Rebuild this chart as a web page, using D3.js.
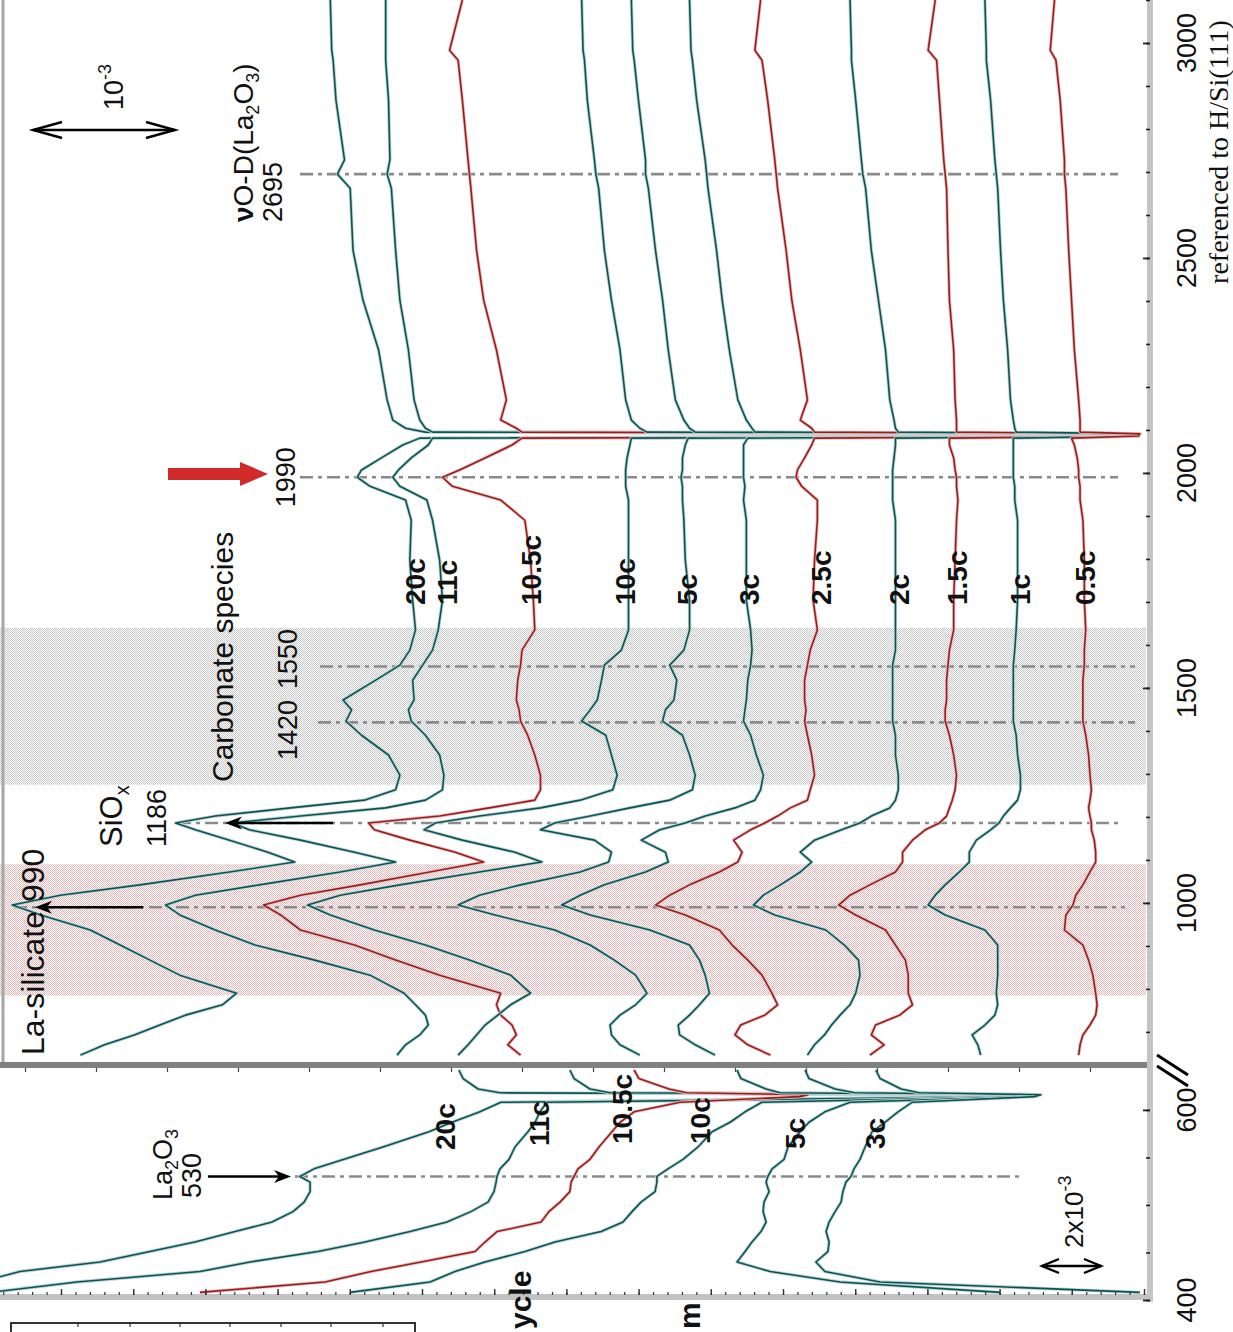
<!DOCTYPE html>
<html>
<head>
<meta charset="utf-8">
<script src="https://cdn.jsdelivr.net/npm/d3@7"></script>
<style>
  body { margin: 0; background: #fff; }
  svg { display: block; }
</style>
</head>
<body>
<div id="chart"></div>
<script>
// ---- data: wavenumber grids (cm-1) and stacked absorbance (units of 1e-3) ----
const upperWn = [3100, 2983, 2960, 2867, 2728, 2695, 2662, 2518, 2402, 2286, 2170, 2123, 2104, 2095, 2091, 2086, 2081, 2065, 2035, 2007, 1990, 1969, 1937, 1890, 1797, 1704, 1635, 1588, 1553, 1518, 1472, 1449, 1423, 1390, 1344, 1297, 1263, 1239, 1221, 1202, 1186, 1170, 1146, 1118, 1095, 1072, 1042, 1018, 995, 972, 937, 902, 867, 832, 790, 763, 739, 716, 693, 670, 646];

const abs20c = [5.85, 5.84, 5.83, 5.81, 5.75, 5.80, 5.71, 5.69, 5.62, 5.51, 5.45, 5.41, 5.32, 5.18, 0.15, 0.16, 5.22, 5.34, 5.49, 5.63, 5.66, 5.57, 5.32, 5.28, 5.29, 5.27, 5.25, 5.29, 5.36, 5.53, 5.76, 5.70, 5.74, 5.63, 5.44, 5.36, 5.39, 5.61, 6.13, 6.66, 6.94, 6.80, 6.56, 6.29, 6.10, 6.56, 7.19, 7.75, 8.09, 7.89, 7.54, 7.33, 7.12, 6.91, 6.51, 6.61, 6.87, 7.05, 7.23, 7.44, 7.61];
const abs11c = [5.46, 5.46, 5.46, 5.44, 5.43, 5.45, 5.42, 5.39, 5.36, 5.30, 5.26, 5.22, 5.18, 5.13, 0.15, 0.16, 5.13, 5.16, 5.28, 5.37, 5.41, 5.36, 5.17, 5.13, 5.08, 5.06, 5.09, 5.13, 5.20, 5.27, 5.26, 5.30, 5.28, 5.18, 5.08, 5.05, 5.06, 5.18, 5.46, 6.06, 6.54, 6.42, 6.06, 5.68, 5.39, 5.78, 6.35, 6.80, 7.01, 6.91, 6.66, 6.38, 5.96, 5.57, 5.33, 5.25, 5.18, 5.16, 5.22, 5.32, 5.38];
const abs10_5c = [4.92, 5.01, 4.95, 4.92, 4.88, 4.87, 4.86, 4.82, 4.77, 4.68, 4.61, 4.65, 4.54, 4.50, 0.15, 0.16, 4.50, 4.57, 4.76, 4.94, 5.06, 4.99, 4.65, 4.48, 4.44, 4.42, 4.41, 4.50, 4.51, 4.53, 4.54, 4.52, 4.51, 4.46, 4.41, 4.37, 4.37, 4.41, 4.73, 5.08, 5.58, 5.54, 5.29, 4.97, 4.77, 5.15, 5.64, 6.06, 6.32, 6.20, 6.06, 5.68, 5.39, 5.08, 4.65, 4.68, 4.65, 4.57, 4.54, 4.60, 4.51];
const abs10c = [4.08, 4.07, 4.06, 4.04, 3.99, 3.98, 3.96, 3.92, 3.87, 3.81, 3.77, 3.73, 3.67, 3.62, 0.15, 0.16, 3.73, 3.74, 3.76, 3.77, 3.77, 3.77, 3.75, 3.75, 3.75, 3.75, 3.75, 3.80, 3.92, 3.94, 3.97, 4.02, 4.08, 3.91, 3.87, 3.83, 3.86, 4.09, 4.37, 4.80, 5.11, 5.19, 4.92, 4.55, 4.36, 4.80, 5.36, 5.78, 6.01, 5.85, 5.54, 5.18, 4.87, 4.58, 4.44, 4.58, 4.67, 4.76, 4.82, 4.88, 4.95];
const abs5c = [3.73, 3.72, 3.71, 3.68, 3.63, 3.63, 3.61, 3.56, 3.51, 3.47, 3.42, 3.36, 3.32, 3.28, 0.15, 0.16, 3.33, 3.35, 3.37, 3.37, 3.38, 3.37, 3.37, 3.36, 3.35, 3.32, 3.32, 3.36, 3.46, 3.41, 3.43, 3.49, 3.51, 3.37, 3.32, 3.28, 3.30, 3.46, 3.74, 4.02, 4.27, 4.37, 3.99, 3.87, 3.89, 4.09, 4.51, 4.80, 4.95, 4.69, 4.27, 4.02, 3.85, 3.70, 3.62, 3.70, 3.81, 3.88, 3.87, 3.81, 3.67];
const abs3c = [3.32, 3.31, 3.30, 3.27, 3.21, 3.20, 3.19, 3.13, 3.09, 3.04, 2.98, 2.92, 2.88, 2.86, 0.15, 0.16, 2.91, 2.94, 2.94, 2.94, 2.94, 2.93, 2.94, 2.92, 2.92, 2.92, 2.89, 2.88, 2.89, 2.91, 2.92, 2.93, 2.94, 2.89, 2.85, 2.80, 2.82, 2.86, 3.00, 3.21, 3.35, 3.53, 3.66, 3.49, 3.47, 3.63, 3.92, 4.09, 4.22, 4.02, 3.60, 3.32, 3.25, 3.21, 3.18, 3.25, 3.32, 3.40, 3.39, 3.28, 3.14];
const abs2_5c = [2.82, 2.86, 2.81, 2.77, 2.72, 2.71, 2.70, 2.64, 2.60, 2.54, 2.49, 2.54, 2.46, 2.44, 0.15, 0.16, 2.44, 2.46, 2.51, 2.56, 2.57, 2.53, 2.42, 2.42, 2.44, 2.45, 2.42, 2.47, 2.49, 2.51, 2.51, 2.50, 2.51, 2.49, 2.46, 2.44, 2.47, 2.49, 2.61, 2.70, 2.79, 2.89, 3.01, 2.95, 2.98, 3.11, 3.32, 3.46, 3.56, 3.35, 3.11, 3.02, 2.91, 2.81, 2.74, 2.70, 2.79, 2.96, 3.00, 2.91, 2.75];
const abs2c = [2.19, 2.18, 2.18, 2.15, 2.11, 2.10, 2.08, 2.04, 1.99, 1.94, 1.91, 1.88, 1.87, 1.85, 0.15, 0.16, 1.87, 1.87, 1.88, 1.89, 1.89, 1.89, 1.89, 1.87, 1.87, 1.87, 1.87, 1.87, 1.89, 1.89, 1.89, 1.89, 1.89, 1.87, 1.87, 1.85, 1.85, 1.87, 1.91, 2.04, 2.12, 2.25, 2.44, 2.54, 2.46, 2.54, 2.68, 2.80, 2.87, 2.72, 2.36, 2.23, 2.13, 2.12, 2.15, 2.19, 2.26, 2.32, 2.37, 2.44, 2.49];
const abs1_5c = [1.59, 1.64, 1.58, 1.56, 1.53, 1.52, 1.51, 1.50, 1.49, 1.46, 1.45, 1.44, 1.44, 1.44, 0.15, 0.16, 1.49, 1.49, 1.46, 1.45, 1.44, 1.44, 1.43, 1.44, 1.45, 1.46, 1.46, 1.49, 1.50, 1.51, 1.51, 1.52, 1.52, 1.49, 1.46, 1.44, 1.45, 1.47, 1.49, 1.51, 1.56, 1.66, 1.75, 1.82, 1.82, 1.87, 2.05, 2.19, 2.27, 2.15, 1.94, 1.87, 1.80, 1.78, 1.78, 1.75, 1.84, 2.01, 2.04, 1.95, 2.05];
const abs1c = [1.24, 1.23, 1.23, 1.20, 1.17, 1.16, 1.15, 1.13, 1.11, 1.08, 1.06, 1.04, 1.03, 1.02, 0.15, 0.16, 1.04, 1.04, 1.04, 1.04, 1.04, 1.03, 1.03, 1.01, 1.01, 1.01, 1.02, 1.03, 1.04, 1.04, 1.04, 1.04, 1.04, 1.02, 1.01, 0.99, 0.99, 1.01, 1.06, 1.11, 1.14, 1.20, 1.30, 1.35, 1.35, 1.42, 1.52, 1.59, 1.64, 1.52, 1.24, 1.15, 1.15, 1.15, 1.16, 1.15, 1.17, 1.24, 1.33, 1.29, 1.27];
const abs0_5c = [0.75, 0.78, 0.74, 0.71, 0.68, 0.68, 0.67, 0.65, 0.63, 0.61, 0.58, 0.57, 0.57, 0.57, 0.15, 0.16, 0.63, 0.61, 0.59, 0.58, 0.58, 0.57, 0.57, 0.55, 0.54, 0.54, 0.53, 0.54, 0.54, 0.55, 0.55, 0.55, 0.55, 0.53, 0.51, 0.50, 0.49, 0.50, 0.51, 0.50, 0.49, 0.49, 0.47, 0.46, 0.46, 0.50, 0.55, 0.60, 0.62, 0.67, 0.68, 0.55, 0.51, 0.48, 0.46, 0.45, 0.46, 0.50, 0.55, 0.57, 0.58];

const lowerWn = [642, 633, 622, 618, 616, 614, 608, 598, 587, 577, 561, 548, 538, 530, 524, 514, 503, 493, 482, 472, 461, 451, 440, 430, 419, 408];
const low20c = [21.37, 21.23, 20.73, 20.00, 3.33, 3.50, 19.97, 20.67, 21.60, 22.37, 23.90, 25.20, 26.20, 26.67, 26.33, 26.33, 26.53, 26.90, 27.60, 28.83, 30.17, 31.67, 33.33, 36.00, 37.33, 38.33];
const low11c = [17.67, 17.53, 17.00, 16.33, 3.00, 3.17, 18.43, 18.67, 18.83, 19.07, 19.50, 19.70, 20.00, 20.10, 20.13, 20.20, 20.40, 20.97, 21.77, 23.00, 24.50, 26.07, 28.33, 30.00, 34.10, 37.00];
const low10_5c = [15.53, 15.37, 14.37, 13.77, 9.73, 10.00, 14.00, 15.53, 16.00, 16.27, 16.70, 17.00, 17.40, 17.53, 17.63, 17.67, 18.00, 18.37, 18.63, 20.10, 20.50, 20.83, 22.63, 24.30, 25.83, 30.00];
const low10c = [12.10, 11.97, 11.13, 10.67, 2.67, 2.83, 11.27, 11.83, 12.33, 12.93, 13.40, 13.90, 14.40, 14.77, 14.77, 14.83, 15.30, 15.60, 15.90, 16.63, 18.17, 19.17, 20.50, 21.50, 22.33, 25.00];
const low5c = [9.83, 9.70, 8.83, 8.17, 2.33, 2.50, 8.33, 9.17, 9.70, 10.00, 10.40, 10.53, 10.93, 11.07, 11.13, 11.03, 11.20, 11.23, 11.13, 11.30, 11.60, 11.83, 12.10, 11.00, 8.67, 3.33];
const low3c = [7.47, 7.33, 6.63, 6.03, 1.97, 2.17, 6.27, 6.73, 7.17, 7.60, 7.83, 8.00, 8.20, 8.30, 8.47, 8.57, 8.63, 8.83, 9.03, 9.13, 9.03, 9.07, 9.47, 9.17, 7.33, -1.33];

const upperCycles = ["20c", "11c", "10.5c", "10c", "5c", "3c", "2.5c", "2c", "1.5c", "1c", "0.5c"];
const lowerCycles = ["20c", "11c", "10.5c", "10c", "5c", "3c"];
const redCycles = ["10.5c", "2.5c", "1.5c", "0.5c"];

const upperTicks = d3.range(700, 3101, 100);
const upperTickLabels = [1000, 1500, 2000, 2500, 3000];
const lowerTicks = [400, 450, 500, 550, 600];
const lowerTickLabels = [400, 600];

const upperSeries = [abs20c, abs11c, abs10_5c, abs10c, abs5c, abs3c, abs2_5c, abs2c, abs1_5c, abs1c, abs0_5c]
  .map((vals, i) => ({ cycle: upperCycles[i], points: d3.zip(upperWn, vals) }));
const lowerSeries = [low20c, low11c, low10_5c, low10c, low5c, low3c]
  .map((vals, i) => ({ cycle: lowerCycles[i], points: d3.zip(lowerWn, vals) }));

// ---- scales ----
const W = 1233, H = 1332;
const yU = d3.scaleLinear().domain([630, 3100]).range([1062, 0]);
const yL = d3.scaleLinear().domain([400, 642]).range([1300, 1070]);
const xU = d3.scaleLinear().domain([0, 8]).range([1161, 25]);
const xL = d3.scaleLinear().domain([0, 10]).range([1100, 800]);
const xB = d3.scaleLinear().domain([0, 16]).range([1144, -11.2]);

const SANS = "'Liberation Sans', Arial, Helvetica, sans-serif";
const SERIF = "'Liberation Serif', 'Times New Roman', serif";

const svg = d3.select("#chart").append("svg")
  .attr("width", W).attr("height", H)
  .attr("viewBox", [0, 0, W, H])
  .style("background", "#fff");

const defs = svg.append("defs");
function dotPattern(id, color) {
  const p = defs.append("pattern").attr("id", id)
    .attr("width", 2).attr("height", 2).attr("patternUnits", "userSpaceOnUse");
  p.append("rect").attr("x", 0).attr("y", 0).attr("width", 1).attr("height", 1).attr("fill", color);
  p.append("rect").attr("x", 1).attr("y", 1).attr("width", 1).attr("height", 1).attr("fill", color);
}
dotPattern("grayDots", "#c6c6c6");
dotPattern("pinkDots", "#e8b6b6");
defs.append("clipPath").attr("id", "clipU").append("rect")
  .attr("x", 0).attr("y", 0).attr("width", 1147).attr("height", 1062);
defs.append("clipPath").attr("id", "clipL").append("rect")
  .attr("x", 0).attr("y", 1068).attr("width", 1147).attr("height", 226);

// ---- shaded bands ----
svg.append("rect").attr("x", 0).attr("width", 1146)
  .attr("y", yU(1640)).attr("height", yU(1275) - yU(1640))
  .attr("fill", "url(#grayDots)");
svg.append("rect").attr("x", 0).attr("width", 1146)
  .attr("y", yU(1090)).attr("height", yU(785) - yU(1090))
  .attr("fill", "url(#pinkDots)");

// ---- dash-dot peak markers ----
const markers = [
  { y: yU(2695), x0: 300, x1: 1118 },
  { y: yU(1990), x0: 300, x1: 1118 },
  { y: yU(1550), x0: 320, x1: 1135 },
  { y: yU(1420), x0: 318, x1: 1135 },
  { y: yU(1186), x0: 178, x1: 1118 },
  { y: yU(990), x0: 14, x1: 1125 },
  { y: yL(530), x0: 295, x1: 1022 }
];
svg.append("g").selectAll("line").data(markers).join("line")
  .attr("x1", d => d.x0).attr("x2", d => d.x1)
  .attr("y1", d => d.y).attr("y2", d => d.y)
  .attr("stroke", "#8a8a8a").attr("stroke-width", 2.6)
  .attr("stroke-dasharray", "13,5,4,5");

// ---- traces ----
function drawTraces(series, xs, ys, clip) {
  const line = d3.line().x(d => xs(d[1])).y(d => ys(d[0]));
  const g = svg.append("g").attr("clip-path", `url(#${clip})`);
  series.forEach(s => {
    const red = redCycles.includes(s.cycle);
    g.append("path").attr("d", line(s.points)).attr("fill", "none")
      .attr("stroke", red ? "#e6c2c2" : "#bcd5d5").attr("stroke-width", 3.4)
      .attr("stroke-linejoin", "round");
    g.append("path").attr("d", line(s.points)).attr("fill", "none")
      .attr("stroke", red ? "#991c1c" : "#0e5252").attr("stroke-width", 1.6)
      .attr("stroke-linejoin", "round");
  });
}
drawTraces(upperSeries, xU, yU, "clipU");
drawTraces(lowerSeries, xL, yL, "clipL");

// ---- frame ----
svg.append("line").attr("x1", 3).attr("x2", 3).attr("y1", 0).attr("y2", 1062)
  .attr("stroke", "#a6a6a6").attr("stroke-width", 3);
svg.append("rect").attr("x", 0).attr("y", 1062).attr("width", 1150).attr("height", 6).attr("fill", "#808080");
svg.append("rect").attr("x", 0).attr("y", 1294).attr("width", 1150).attr("height", 6).attr("fill", "#c2c2c2");
svg.append("rect").attr("x", 1147).attr("y", 0).attr("width", 6).attr("height", 1302).attr("fill", "#c4c4c4");

// separator ticks (absorbance axis of upper panel)
svg.append("g").attr("transform", "translate(0,1068)")
  .call(d3.axisBottom(xU).tickValues(d3.range(0.5, 8.01, 0.5)).tickSize(4).tickFormat(""))
  .call(g => g.select(".domain").remove())
  .selectAll("line").attr("stroke", "#444").attr("stroke-width", 1.2);

// bottom bar ticks
svg.append("g").attr("transform", "translate(0,1295)")
  .call(d3.axisTop(xB).tickValues(d3.range(0, 16.01, 0.2).filter(v => xB(v) >= 0)).tickSize(3).tickFormat(""))
  .call(g => g.select(".domain").remove())
  .selectAll("line").attr("stroke", "#333").attr("stroke-width", 1.2);
svg.append("g").attr("transform", "translate(0,1295)")
  .call(d3.axisTop(xB).tickValues(d3.range(0, 16.01, 1).filter(v => xB(v) >= 0)).tickSize(6).tickFormat(""))
  .call(g => g.select(".domain").remove())
  .selectAll("line").attr("stroke", "#333").attr("stroke-width", 1.4);

// wavenumber axis ticks
function wnAxis(scale, minor, major) {
  svg.append("g").attr("transform", "translate(1150,0)")
    .call(d3.axisLeft(scale).tickValues(minor).tickSize(4).tickFormat(""))
    .call(g => g.select(".domain").remove())
    .selectAll("line").attr("stroke", "#222").attr("stroke-width", 1.6);
  svg.append("g").attr("transform", "translate(1150,0)")
    .call(d3.axisLeft(scale).tickValues(major).tickSize(7).tickFormat(""))
    .call(g => g.select(".domain").remove())
    .selectAll("line").attr("stroke", "#222").attr("stroke-width", 1.8);
}
wnAxis(yU, upperTicks, upperTickLabels);
wnAxis(yL, lowerTicks, lowerTickLabels);

// axis break marks
svg.append("g").selectAll("line").data([0, 11]).join("line")
  .attr("x1", 1157).attr("y1", d => 1055 + d)
  .attr("x2", 1188).attr("y2", d => 1075 + d)
  .attr("stroke", "#000").attr("stroke-width", 3);

// ---- text helpers ----
function vtext(x, y, parts, o) {
  const t = svg.append("text")
    .attr("transform", `translate(${x},${y}) rotate(-90)`)
    .attr("font-family", o.family || SANS)
    .attr("font-size", o.size)
    .attr("font-weight", o.weight || "normal")
    .attr("text-anchor", o.anchor || "start")
    .attr("fill", "#111");
  if (typeof parts === "string") t.text(parts);
  else parts.forEach(p => {
    const s = t.append("tspan").text(p.t);
    if (p.dy) s.attr("dy", p.dy);
    if (p.size) s.attr("font-size", p.size);
    if (p.weight) s.attr("font-weight", p.weight);
  });
  return t;
}

function arrow(x1, y, x2) {
  const dir = Math.sign(x2 - x1);
  svg.append("line").attr("x1", x1).attr("y1", y).attr("x2", x2 - dir * 10).attr("y2", y)
    .attr("stroke", "#000").attr("stroke-width", 2.6);
  svg.append("path")
    .attr("d", `M${x2},${y} L${x2 - dir * 17},${y - 6.5} L${x2 - dir * 12},${y} L${x2 - dir * 17},${y + 6.5} Z`)
    .attr("fill", "#000");
}

function dblArrow(x1, x2, y, len, half) {
  svg.append("line").attr("x1", x1).attr("x2", x2).attr("y1", y).attr("y2", y)
    .attr("stroke", "#000").attr("stroke-width", 2.4);
  svg.append("path")
    .attr("d", `M${x1 + len},${y - half} L${x1},${y} L${x1 + len},${y + half} M${x2 - len},${y - half} L${x2},${y} L${x2 - len},${y + half}`)
    .attr("fill", "none").attr("stroke", "#000").attr("stroke-width", 2.4);
}

// tick labels
upperTickLabels.forEach(v => vtext(1196, yU(v), String(v), { size: 27, anchor: "middle" }));
lowerTickLabels.forEach(v => vtext(1196, yL(v), String(v), { size: 27, anchor: "middle" }));
vtext(1228, 152, "referenced to H/Si(111)", { size: 28, anchor: "middle", family: SERIF });

// scale bars
dblArrow(33, 175, 130, 29, 8);
vtext(123, 110, [{ t: "10" }, { t: "-3", size: 18, dy: -12 }], { size: 27 });
dblArrow(1042, 1101, 1266, 17, 7);
vtext(1083, 1248, [{ t: "2x10" }, { t: "-3", size: 18, dy: -12 }], { size: 26 });

// peak annotations
vtext(253, 222, [
  { t: "ν", weight: "bold" }, { t: "O-D(La" },
  { t: "2", size: 18, dy: 6 }, { t: "O", dy: -6 },
  { t: "3", size: 18, dy: 6 }, { t: ")", dy: -6 }
], { size: 28 });
vtext(282, 222, "2695", { size: 27 });

svg.append("path")
  .attr("d", "M168,468 L240,468 L240,462 L268,474 L240,486 L240,480 L168,480 Z")
  .attr("fill", "#d12a2a");
vtext(295, yU(1990), "1990", { size: 27, anchor: "middle" });

vtext(233, 782, "Carbonate species", { size: 30 });
vtext(297, 730, "1420", { size: 27, anchor: "middle" });
vtext(297, 659, "1550", { size: 27, anchor: "middle" });

vtext(122, 847, [{ t: "SiO" }, { t: "x", size: 20, dy: 7 }], { size: 31 });
vtext(166, 847, "1186", { size: 27 });
arrow(333, yU(1186), 225);

vtext(44, 1055, "La-silicate 990", { size: 32 });
arrow(143, yU(990), 35);

vtext(172, 1200, [
  { t: "La" }, { t: "2", size: 18, dy: 6 }, { t: "O", dy: -6 }, { t: "3", size: 18, dy: 6 }
], { size: 27 });
vtext(201, 1198, "530", { size: 27 });
arrow(208, yL(530), 291);

// cycle labels
const upperLabelPos = [[425, "20c"], [457, "11c"], [541, "10.5c"], [635, "10c"], [697, "5c"], [759, "3c"], [831, "2.5c"], [909, "2c"], [967, "1.5c"], [1030, "1c"], [1095, "0.5c"]];
upperLabelPos.forEach(([x, s]) => vtext(x, 605, s, { size: 28, weight: "bold" }));
const lowerLabelPos = [[455, 1150, "20c"], [549, 1146, "11c"], [632, 1144, "10.5c"], [710, 1144, "10c"], [805, 1149, "5c"], [885, 1149, "3c"]];
lowerLabelPos.forEach(([x, y, s]) => vtext(x, y, s, { size: 28, weight: "bold" }));

// fragments of the neighbouring panel along the bottom edge
vtext(531, 1329, "ycle", { size: 30, weight: "bold" });
vtext(700, 1329, "m", { size: 30, weight: "bold" });
svg.append("rect").attr("x", 11).attr("y", 1323).attr("width", 404).attr("height", 30)
  .attr("fill", "none").attr("stroke", "#333").attr("stroke-width", 2);
svg.append("g").selectAll("line").data([78, 130, 180, 230, 281, 331, 383]).join("line")
  .attr("x1", d => d).attr("x2", d => d).attr("y1", 1323).attr("y2", 1327)
  .attr("stroke", "#333").attr("stroke-width", 1.2);
</script>
</body>
</html>
